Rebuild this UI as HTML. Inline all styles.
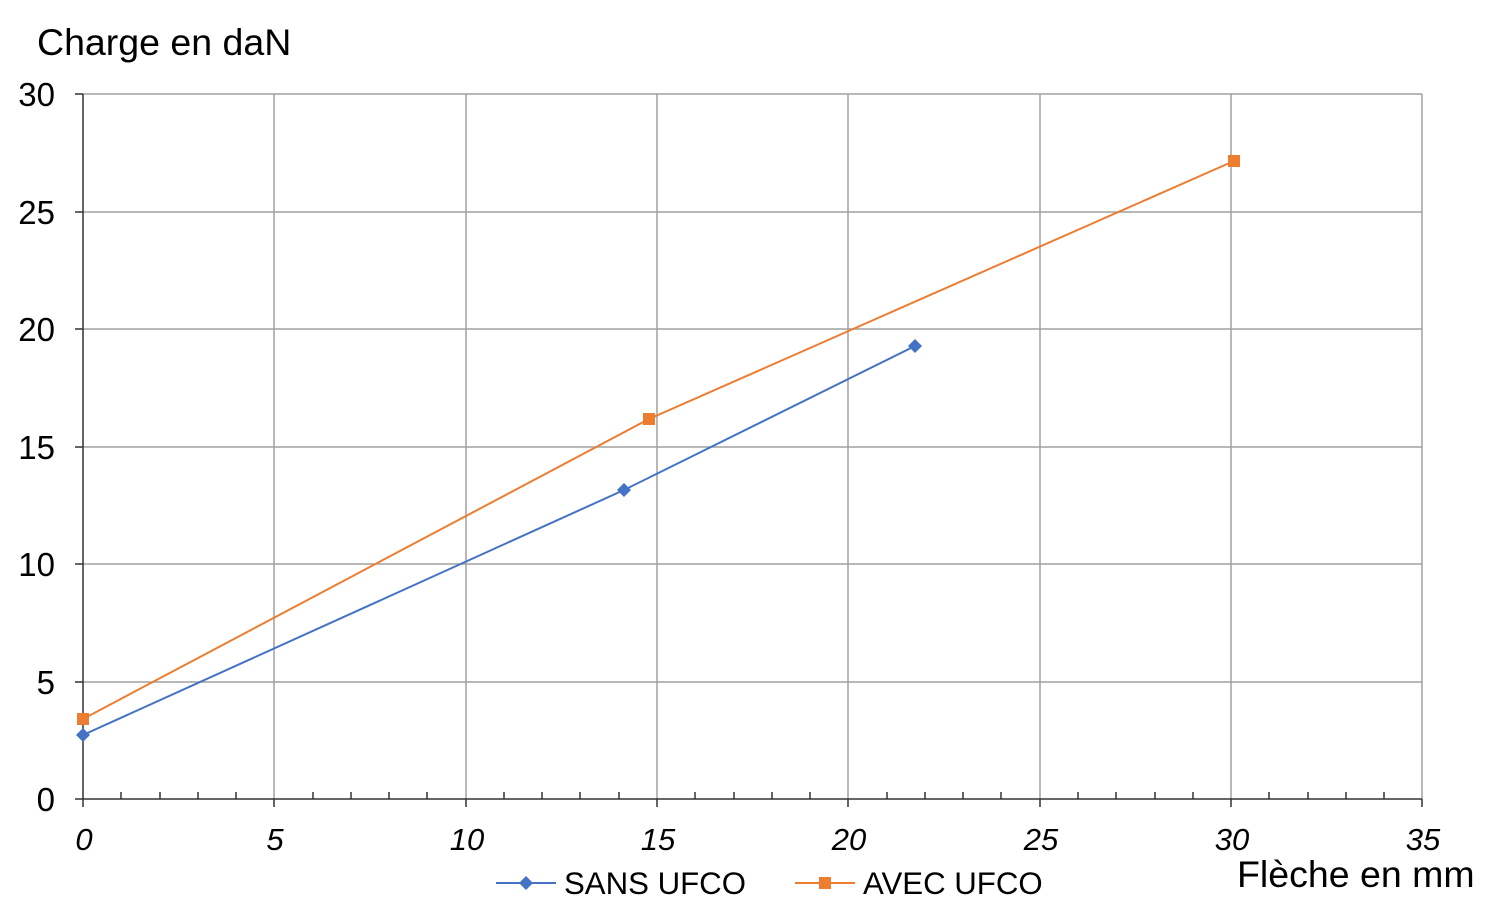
<!DOCTYPE html>
<html><head><meta charset="utf-8"><style>body{margin:0;background:#fff}svg{display:block}text{font-family:"Liberation Sans",sans-serif;fill:#000}</style></head><body>
<svg width="1500" height="914" xmlns="http://www.w3.org/2000/svg">
<g stroke="#a0a0a0" stroke-width="1.5">
<line x1="83" y1="94" x2="1422" y2="94"/><line x1="83" y1="212" x2="1422" y2="212"/><line x1="83" y1="329" x2="1422" y2="329"/><line x1="83" y1="447" x2="1422" y2="447"/><line x1="83" y1="564" x2="1422" y2="564"/><line x1="83" y1="682" x2="1422" y2="682"/>
<line x1="274" y1="94" x2="274" y2="799"/><line x1="466" y1="94" x2="466" y2="799"/><line x1="657" y1="94" x2="657" y2="799"/><line x1="848" y1="94" x2="848" y2="799"/><line x1="1040" y1="94" x2="1040" y2="799"/><line x1="1231" y1="94" x2="1231" y2="799"/><line x1="1422" y1="94" x2="1422" y2="799"/>
</g>
<g stroke="#333" stroke-width="1.5">
<line x1="83" y1="94" x2="83" y2="807"/><line x1="75" y1="799" x2="1422" y2="799"/>
<line x1="75" y1="94" x2="83" y2="94"/><line x1="75" y1="212" x2="83" y2="212"/><line x1="75" y1="329" x2="83" y2="329"/><line x1="75" y1="447" x2="83" y2="447"/><line x1="75" y1="564" x2="83" y2="564"/><line x1="75" y1="682" x2="83" y2="682"/>
<path d="M274 799v8M466 799v8M657 799v8M848 799v8M1040 799v8M1231 799v8M1422 799v8"/>
<path d="M121 799v-7M160 799v-7M198 799v-7M236 799v-7M313 799v-7M351 799v-7M389 799v-7M427 799v-7M504 799v-7M542 799v-7M580 799v-7M619 799v-7M695 799v-7M734 799v-7M772 799v-7M810 799v-7M887 799v-7M925 799v-7M963 799v-7M1001 799v-7M1078 799v-7M1116 799v-7M1155 799v-7M1193 799v-7M1269 799v-7M1308 799v-7M1346 799v-7M1384 799v-7"/>
</g>
<polyline points="83,719 649,419 1234,161" fill="none" stroke="#ed7d31" stroke-width="2"/>
<polyline points="83,735 624,490 915,346" fill="none" stroke="#4472c4" stroke-width="2"/>
<g fill="#ed7d31"><rect x="77" y="713" width="12" height="12"/><rect x="643" y="413" width="12" height="12"/><rect x="1228" y="155" width="12" height="12"/></g>
<g fill="#4472c4"><path d="M83 728l7 7-7 7-7-7z"/><path d="M624 483l7 7-7 7-7-7z"/><path d="M915 339l7 7-7 7-7-7z"/></g>
<g font-size="33" text-anchor="end">
<text x="55" y="106">30</text><text x="55" y="224">25</text><text x="55" y="341">20</text><text x="55" y="459">15</text><text x="55" y="576">10</text><text x="55" y="694">5</text><text x="55" y="811">0</text>
</g>
<g font-size="31" font-style="italic" text-anchor="middle">
<text x="84" y="850">0</text><text x="275" y="850">5</text><text x="467" y="850">10</text><text x="658" y="850">15</text><text x="849" y="850">20</text><text x="1041" y="850">25</text><text x="1232" y="850">30</text><text x="1423" y="850">35</text>
</g>
<text x="37" y="55" font-size="37.5">Charge en daN</text>
<text x="1237" y="887" font-size="37.5">Flèche en mm</text>
<line x1="496" y1="883" x2="556" y2="883" stroke="#4472c4" stroke-width="2"/><path d="M526 876l7 7-7 7-7-7z" fill="#4472c4"/>
<text x="564" y="894" font-size="31.2">SANS UFCO</text>
<line x1="795" y1="883" x2="855" y2="883" stroke="#ed7d31" stroke-width="2"/><rect x="819" y="877" width="12" height="12" fill="#ed7d31"/>
<text x="863" y="894" font-size="31.2">AVEC UFCO</text>
</svg>
</body></html>
